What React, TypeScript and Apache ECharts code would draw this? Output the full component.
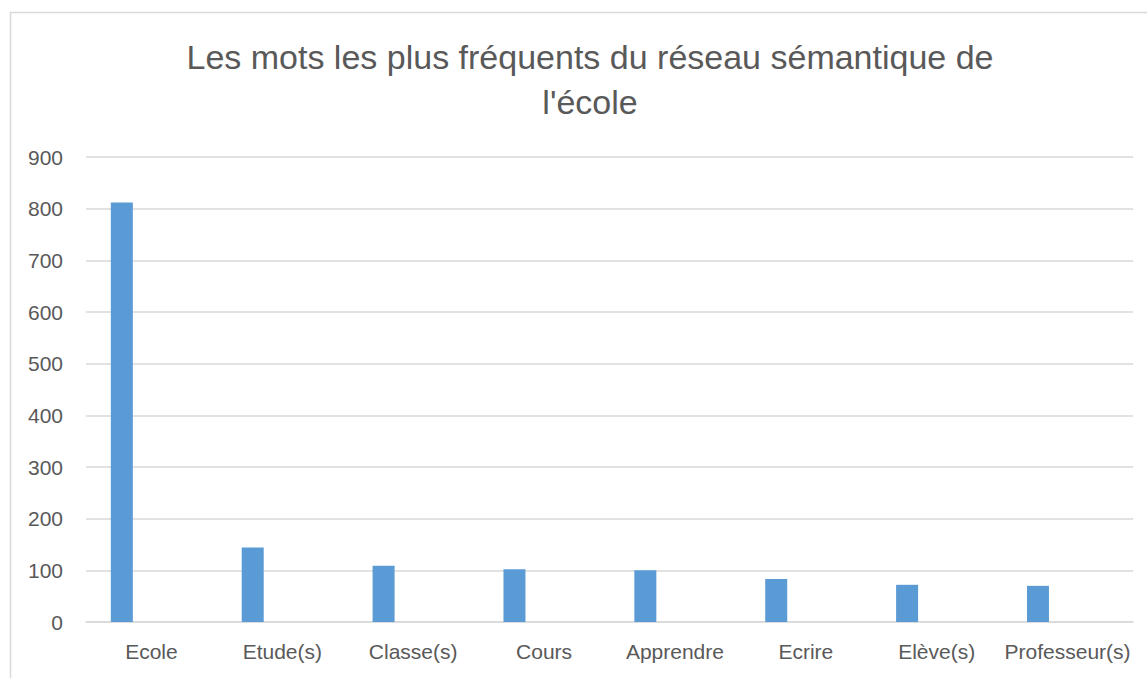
import React, { useEffect, useRef } from "react";
import * as echarts from "echarts";

const titleLines = ["Les mots les plus fréquents du réseau sémantique de", "l'école"];
const categories = ["Ecole", "Etude(s)", "Classe(s)", "Cours", "Apprendre", "Ecrire", "Elève(s)", "Professeur(s)"];
const frequencies = [812, 144, 109, 102, 100, 83, 72, 70];
const emptySlot = ["-", "-", "-", "-", "-", "-", "-", "-"];
const yMin = 0;
const yMax = 900;
const yStep = 100;

const FONT = "Liberation Sans, Arial, sans-serif";
const TEXT = "#595959";
const LINE = "#d9d9d9";

export default function App() {
  const ref = useRef<HTMLDivElement>(null);
  useEffect(() => {
    if (!ref.current) return;
    const chart = echarts.init(ref.current, null, { renderer: "svg" });
    chart.setOption({
      animation: false,
      backgroundColor: "#ffffff",
      textStyle: { fontFamily: FONT },
      title: {
        text: titleLines.join("\n"),
        left: 585,
        textAlign: "center",
        top: 29,
        textStyle: {
          fontFamily: FONT,
          fontSize: 34,
          fontWeight: "normal",
          color: TEXT,
          lineHeight: 45,
        },
      },
      graphic: [
        {
          type: "rect",
          shape: { x: 10.5, y: 12.5, width: 1200, height: 720 },
          style: { fill: "none", stroke: LINE, lineWidth: 1.5 },
          silent: true,
          z: -1,
        },
      ],
      grid: { left: 86, right: 14, top: 157, bottom: 56, containLabel: false },
      xAxis: {
        type: "category",
        data: categories,
        axisLine: { show: true, lineStyle: { color: LINE, width: 1.5 } },
        axisTick: { show: false },
        axisLabel: { color: TEXT, fontSize: 21, fontFamily: FONT, margin: 19, interval: 0 },
      },
      yAxis: {
        type: "value",
        min: yMin,
        max: yMax,
        interval: yStep,
        axisLine: { show: false },
        axisTick: { show: false },
        splitLine: { lineStyle: { color: LINE, width: 1.5 } },
        axisLabel: { color: TEXT, fontSize: 21, fontFamily: FONT, margin: 23 },
      },
      series: [
        {
          type: "bar",
          data: frequencies,
          barWidth: 22,
          barGap: "169%",
          itemStyle: { color: "#5b9bd5" },
        },
        {
          type: "bar",
          data: emptySlot,
          barWidth: 22,
          itemStyle: { color: "#ed7d31" },
        },
      ],
    });
    return () => chart.dispose();
  }, []);
  return (
    <div
      ref={ref}
      style={{ position: "absolute", left: 0, top: 0, width: 1147, height: 678, background: "#fff" }}
    />
  );
}
